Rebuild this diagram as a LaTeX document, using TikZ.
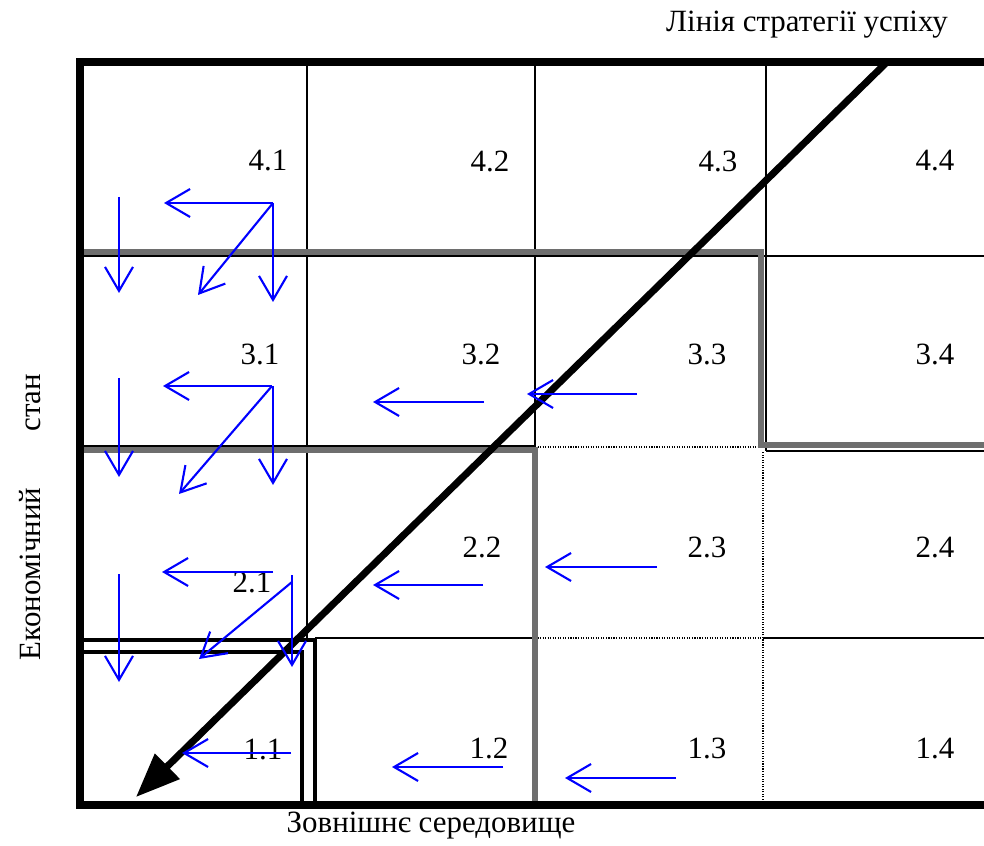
\documentclass[tikz,border=0pt]{standalone}
\usepackage{fontspec}
\setmainfont{Liberation Serif}
\definecolor{flowblue}{RGB}{0,0,255}
\definecolor{bandgray}{RGB}{110,110,110}
\usetikzlibrary{positioning,arrows.meta}

\begin{document}
\begin{tikzpicture}[
    grid/.style={line width=1.4pt},
    band/.style={bandgray,line width=4pt},
    dbl/.style={line width=3pt},
    thin dots/.style={densely dotted,line width=0.8pt},
    flow/.style={flowblue,line width=1.5pt,-{Straight Barb[length=6mm,width=7mm]}},
    lbl/.style={font=\fontsize{22}{26}\selectfont}]
    \useasboundingbox (-2,-1) rectangle (22.6,20.125);

    \draw[grid] (0,13.725) -- (22.6,13.725);
    \draw[grid] (0,8.975) -- (11.375,8.975);
    \draw[grid] (17.15,8.85) -- (22.6,8.85);
    \draw[grid] (5.875,4.175) -- (11.375,4.175);
    \draw[grid] (17.075,4.175) -- (22.6,4.175);
    \draw[grid] (5.675,4.125) -- (5.675,18.575);
    \draw[grid] (11.375,8.975) -- (11.375,18.575);
    \draw[grid] (17.15,8.85) -- (17.15,18.575);
    \draw[thin dots] (11.375,8.95) -- (17.075,8.95);
    \draw[thin dots] (11.375,4.175) -- (17.075,4.175);
    \draw[thin dots] (17.075,0) -- (17.075,8.85);

    \draw[band] (0,13.825) -- (17.025,13.825) -- (17.025,9.0) -- (22.6,9.0);
    \draw[band] (0,8.875) -- (11.375,8.875) -- (11.375,0);

    \draw[dbl] (0,4.125) -- (5.875,4.125) -- (5.875,0);
    \draw[dbl] (0,3.825) -- (5.55,3.825) -- (5.55,0);

    \draw[line width=5pt] (22.6,0) -- (0,0) -- (0,18.575) -- (22.6,18.575);

    \coordinate (sfrom) at (20.175,18.575);
    \coordinate (sto) at (1.4,0.2);
    \draw[line width=5pt,-{Triangle[length=11mm,width=8.5mm]}] (sfrom) -- (sto);

    \node[lbl] (c41) at (4.7,16.1) {4.1};
    \node[lbl] (c42) at (10.25,16.1) {4.2};
    \node[lbl] (c43) at (15.95,16.1) {4.3};
    \node[lbl] (c44) at (21.375,16.1) {4.4};
    \node[lbl] (c31) at (4.5,11.275) {3.1};
    \node[lbl] (c32) at (10.025,11.275) {3.2};
    \node[lbl] (c33) at (15.675,11.275) {3.3};
    \node[lbl] (c34) at (21.375,11.275) {3.4};
    \node[lbl] (c21) at (4.3,5.575) {2.1};
    \node[lbl] (c22) at (10.05,6.45) {2.2};
    \node[lbl] (c23) at (15.675,6.45) {2.3};
    \node[lbl] (c24) at (21.375,6.45) {2.4};
    \node[lbl] (c11) at (4.575,1.375) {1.1};
    \node[lbl] (c12) at (10.225,1.425) {1.2};
    \node[lbl] (c13) at (15.675,1.425) {1.3};
    \node[lbl] (c14) at (21.375,1.4) {1.4};

    \node[lbl] (line) at (18.175,19.5) {Лінія стратегії успіху};
    \node[lbl] (env) at (8.775,-0.525) {Зовнішнє середовище};
    \node[lbl,rotate=90] (state) at (-1.25,7.2) {Економічний\hspace{1.4cm}стан};

    \draw[flow] (0.975,15.2) -- (0.975,12.8);
    \draw[flow] (4.825,15.05) -- (2.1,15.05);
    \draw[flow] (4.825,15.05) -- (4.825,12.575);
    \draw[flow] (4.825,15.05) -- (2.95,12.75);
    \draw[flow] (0.975,10.675) -- (0.975,8.2);
    \draw[flow] (4.8,10.475) -- (2.075,10.475);
    \draw[flow] (4.825,10.475) -- (4.825,8.0);
    \draw[flow] (4.8,10.475) -- (2.475,7.775);
    \draw[flow] (0.975,5.775) -- (0.975,3.075);
    \draw[flow] (4.825,5.825) -- (2.05,5.825);
    \draw[flow] (5.3,5.75) -- (5.3,3.45);
    \draw[flow] (5.3,5.575) -- (2.975,3.65);
    \draw[flow] (5.275,1.3) -- (2.55,1.3);
    \draw[flow] (10.1,10.075) -- (7.325,10.075);
    \draw[flow] (13.925,10.275) -- (11.175,10.275);
    \draw[flow] (10.075,5.5) -- (7.325,5.5);
    \draw[flow] (14.425,5.95) -- (11.625,5.95);
    \draw[flow] (10.575,0.95) -- (7.8,0.95);
    \draw[flow] (14.9,0.675) -- (12.125,0.675);
\end{tikzpicture}
\end{document}
